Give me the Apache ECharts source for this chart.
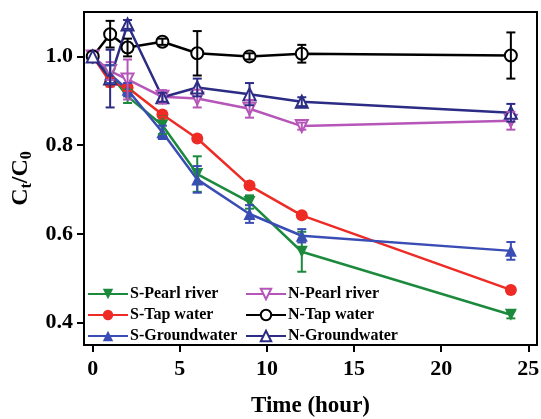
<!DOCTYPE html>
<html>
<head>
<meta charset="utf-8">
<script src="https://cdn.jsdelivr.net/npm/echarts@6/dist/echarts.min.js"></script>
<style>
  html, body { margin: 0; padding: 0; background: #fff; }
  #chart { width: 541px; height: 419px; }
</style>
</head>
<body>
<div id="chart"></div>
<script>
// sampling times (hour)
const times = [0, 1, 2, 4, 6, 9, 12, 24]

// Ct/C0 per sample
const sPearl = [1.0, 0.96, 0.91, 0.845, 0.735, 0.672, 0.56, 0.418]
const sTap = [1.0, 0.942, 0.93, 0.869, 0.815, 0.709, 0.642, 0.474]
const sGround = [1.0, 0.96, 0.925, 0.829, 0.723, 0.645, 0.596, 0.562]
const nPearl = [1.0, 0.967, 0.948, 0.909, 0.905, 0.882, 0.843, 0.855]
const nTap = [1.0, 1.05, 1.02, 1.033, 1.007, 1.0, 1.006, 1.002]
const nGround = [1.0, 0.95, 1.072, 0.908, 0.93, 0.915, 0.898, 0.873]

// standard deviations
const sPearlErr = [0, 0.02, 0.015, 0.02, 0.04, 0.015, 0.045, 0.008]
const sTapErr = [0, 0.01, 0.008, 0.005, 0.005, 0.005, 0.006, 0.005]
const sGroundErr = [0, 0.02, 0.015, 0.015, 0.03, 0.02, 0.015, 0.02]
const nPearlErr = [0, 0.02, 0.045, 0.015, 0.02, 0.02, 0.008, 0.02]
const nTapErr = [0, 0.03, 0.02, 0.007, 0.05, 0.007, 0.02, 0.052]
const nGroundErr = [0, 0.065, 0.01, 0.01, 0.02, 0.025, 0.01, 0.02]

const xTicks = [0, 5, 10, 15, 20, 25]
const yTicks = [0.4, 0.6, 0.8, 1.0]

const font = 'Liberation Serif'

const groups = [
  { name: 'S-Pearl river', y: sPearl, err: sPearlErr, color: '#1c8a3c', symbol: 'triangle', rotate: 180 },
  { name: 'S-Tap water', y: sTap, err: sTapErr, color: '#ee2b25', symbol: 'circle', rotate: 0 },
  { name: 'S-Groundwater', y: sGround, err: sGroundErr, color: '#3a4db5', symbol: 'triangle', rotate: 0 },
  { name: 'N-Pearl river', y: nPearl, err: nPearlErr, color: '#b556b8', symbol: 'emptyTriangle', rotate: 180 },
  { name: 'N-Tap water', y: nTap, err: nTapErr, color: '#000000', symbol: 'emptyCircle', rotate: 0 },
  { name: 'N-Groundwater', y: nGround, err: nGroundErr, color: '#2c2c85', symbol: 'emptyTriangle', rotate: 0 }
]

const chart = echarts.init(document.getElementById('chart'), null, { renderer: 'canvas' })

const series = []
groups.forEach(g => {
  series.push({
    name: g.name,
    type: 'line',
    data: times.map((t, i) => [t, g.y[i]]),
    symbol: g.symbol,
    symbolRotate: g.rotate,
    symbolSize: 12,
    color: g.color,
    lineStyle: { width: 2.5, color: g.color },
    itemStyle: { borderWidth: 1.5 },
    z: 3
  })
  series.push({
    type: 'custom',
    name: g.name + ' err',
    data: times.map((t, i) => [t, g.y[i], g.err[i]]),
    z: 4,
    renderItem: function (params, api) {
      const x = api.value(0)
      const y = api.value(1)
      const e = api.value(2)
      if (!e) return
      const top = api.coord([x, y + e])
      const bot = api.coord([x, y - e])
      const w = 4.5
      const st = { stroke: g.color, lineWidth: 2 }
      return {
        type: 'group',
        children: [
          { type: 'line', shape: { x1: top[0], y1: top[1], x2: bot[0], y2: bot[1] }, style: st },
          { type: 'line', shape: { x1: top[0] - w, y1: top[1], x2: top[0] + w, y2: top[1] }, style: st },
          { type: 'line', shape: { x1: bot[0] - w, y1: bot[1], x2: bot[0] + w, y2: bot[1] }, style: st }
        ]
      }
    }
  })
})

const legendBase = {
  orient: 'vertical',
  top: 281,
  itemWidth: 40,
  itemHeight: 13,
  itemGap: 5,
  textStyle: { fontFamily: font, fontWeight: 'bold', fontSize: 16, lineHeight: 14, color: '#000', padding: [0, 0, 0, -3] }
}

const option = {
  backgroundColor: '#fff',
  animation: false,
  grid: {
    left: 84, right: 4, top: 12, bottom: 74,
    outerBoundsMode: 'none',
    show: true, borderColor: '#000', borderWidth: 2
  },
  legend: [
    Object.assign({ left: 82, data: groups.slice(0, 3).map(g => g.name) }, legendBase),
    Object.assign({ left: 240, data: groups.slice(3).map(g => g.name) }, legendBase)
  ],
  xAxis: {
    type: 'value',
    min: -0.5,
    max: 25.5,
    name: 'Time (hour)',
    nameLocation: 'middle',
    nameGap: 50,
    nameTextStyle: { fontFamily: font, fontWeight: 'bold', fontSize: 23, color: '#000' },
    axisLine: { show: true, onZero: false, lineStyle: { color: '#000', width: 2 } },
    axisTick: { show: true, inside: false, length: 7, lineStyle: { color: '#000', width: 2 }, customValues: xTicks },
    axisLabel: { fontFamily: font, fontWeight: 'bold', fontSize: 22, color: '#000', margin: 13, customValues: xTicks },
    splitLine: { show: false }
  },
  yAxis: {
    type: 'value',
    min: 0.35,
    max: 1.1,
    name: '{m|C}{s|t}{m|/C}{s|0}',
    nameLocation: 'middle',
    nameGap: 43,
    nameRotate: 90,
    nameTextStyle: {
      color: '#000',
      rich: {
        m: { fontFamily: font, fontWeight: 'bold', fontSize: 24, color: '#000' },
        s: { fontFamily: font, fontWeight: 'bold', fontSize: 16, color: '#000', padding: [12, 0, 0, 0] }
      }
    },
    axisLine: { show: true, onZero: false, lineStyle: { color: '#000', width: 2 } },
    axisTick: { show: true, inside: false, length: 7, lineStyle: { color: '#000', width: 2 }, customValues: yTicks },
    axisLabel: {
      fontFamily: font, fontWeight: 'bold', fontSize: 22, color: '#000', margin: 11,
      customValues: yTicks,
      formatter: v => v.toFixed(1)
    },
    splitLine: { show: false }
  },
  series: series
}

chart.setOption(option)
</script>
</body>
</html>
